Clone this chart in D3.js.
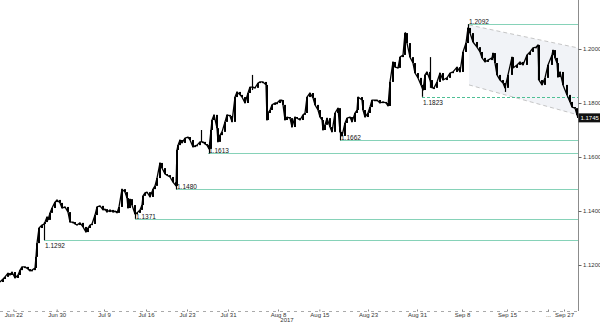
<!DOCTYPE html>
<html lang="en">
<head>
  <meta charset="UTF-8">
  <title>EUR/USD Jun - Sep 2017</title>
  <script src="https://d3js.org/d3.v7.min.js"></script>
  <style>
    body { margin: 0; background: #fff; }
    svg { display: block; font-family: 'Liberation Sans', Arial, sans-serif; }
  </style>
</head>
<body>
<div id="chart"></div>
<script>
  // [trading hour since start, close]
  var closes = [
    [0,1.1137],[9,1.1148],[15,1.1156],[24,1.1170],[30,1.1163],[36,1.1174],[45,1.1152],[54,1.1163],
    [60,1.1181],[66,1.1193],[75,1.1193],[84,1.1185],[90,1.1178],[96,1.1181],[105,1.1189],[108,1.1230],
    [111,1.1281],[117,1.1337],[126,1.1348],[132,1.1352],[135,1.1359],[141,1.1378],[144,1.1367],[150,1.1393],
    [156,1.1411],[165,1.1433],[171,1.1441],[180,1.1430],[186,1.1411],[195,1.1415],[204,1.1396],[210,1.1359],
    [219,1.1359],[225,1.1352],[231,1.1348],[240,1.1356],[249,1.1341],[258,1.1322],[264,1.1337],[270,1.1348],
    [276,1.1352],[285,1.1385],[291,1.1415],[300,1.1419],[309,1.1404],[315,1.1407],[321,1.1396],[330,1.1404],
    [339,1.1396],[345,1.1400],[351,1.1393],[357,1.1415],[366,1.1481],[375,1.1470],[381,1.1448],[384,1.1411],
    [390,1.1444],[396,1.1422],[405,1.1389],[411,1.1393],[420,1.1404],[426,1.1422],[429,1.1456],[435,1.1467],
    [441,1.1470],[450,1.1452],[459,1.1481],[465,1.1493],[471,1.1522],[480,1.1578],[486,1.1559],[495,1.1537],
    [501,1.1533],[510,1.1526],[519,1.1507],[528,1.1493],[531,1.1626],[534,1.1644],[540,1.1663],[546,1.1652],
    [555,1.1670],[564,1.1674],[570,1.1663],[579,1.1637],[585,1.1641],[591,1.1644],[600,1.1656],[609,1.1656],
    [615,1.1648],[621,1.1644],[627,1.1630],[633,1.1700],[636,1.1737],[642,1.1756],[651,1.1707],[654,1.1656],
    [660,1.1681],[666,1.1693],[675,1.1730],[681,1.1756],[690,1.1752],[696,1.1730],[705,1.1822],[711,1.1841],
    [720,1.1830],[726,1.1822],[735,1.1800],[744,1.1837],[750,1.1859],[759,1.1859],[765,1.1856],[774,1.1874],
    [780,1.1878],[789,1.1878],[798,1.1867],[801,1.1737],[804,1.1763],[810,1.1774],[816,1.1793],[825,1.1800],
    [831,1.1800],[840,1.1811],[846,1.1811],[849,1.1793],[855,1.1737],[861,1.1748],[870,1.1744],[876,1.1711],
    [885,1.1748],[891,1.1744],[900,1.1737],[909,1.1756],[915,1.1763],[921,1.1822],[930,1.1837],[939,1.1819],
    [945,1.1793],[954,1.1774],[960,1.1748],[966,1.1737],[969,1.1700],[975,1.1719],[981,1.1744],[990,1.1711],
    [996,1.1693],[1005,1.1763],[1014,1.1781],[1020,1.1693],[1026,1.1678],[1035,1.1726],[1041,1.1744],[1050,1.1748],
    [1056,1.1730],[1065,1.1763],[1071,1.1774],[1074,1.1822],[1086,1.1811],[1089,1.1774],[1095,1.1748],[1104,1.1763],
    [1110,1.1785],[1116,1.1811],[1125,1.1811],[1131,1.1811],[1140,1.1800],[1149,1.1804],[1158,1.1800],[1164,1.1789],
    [1170,1.1878],[1179,1.1952],[1185,1.1933],[1194,1.1930],[1200,1.1970],[1209,1.1978],[1215,1.2059],[1221,1.2022],
    [1230,1.1970],[1239,1.1948],[1245,1.1911],[1254,1.1893],[1263,1.1867],[1269,1.1848],[1275,1.1904],[1281,1.1915],
    [1290,1.1885],[1296,1.1856],[1302,1.1856],[1311,1.1878],[1320,1.1911],[1329,1.1885],[1341,1.1893],[1350,1.1911],
    [1359,1.1915],[1371,1.1933],[1380,1.1915],[1389,1.1989],[1398,1.2022],[1404,1.2078],[1410,1.2059],[1419,1.2026],
    [1431,1.2007],[1440,1.1989],[1446,1.1967],[1455,1.1952],[1464,1.1959],[1476,1.1967],[1479,1.1985],[1485,1.1948],
    [1491,1.1904],[1500,1.1885],[1509,1.1874],[1515,1.1856],[1524,1.1904],[1536,1.1970],[1539,1.1930],[1551,1.1941],
    [1560,1.1952],[1569,1.1941],[1581,1.1978],[1590,1.1989],[1599,1.2004],[1608,1.2007],[1614,1.2015],[1617,1.1885],
    [1626,1.1867],[1635,1.1893],[1644,1.1941],[1656,1.1978],[1659,1.1996],[1665,1.1967],[1671,1.1948],[1674,1.1896],
    [1680,1.1915],[1689,1.1867],[1701,1.1830],[1710,1.1804],[1716,1.1785],[1725,1.1781],[1731,1.1756],[1734,1.1745]
  ];

  // [trading hour, low, high] for the visible long wicks
  var wicks = [
    [132,1.1292,1.1359],[405,1.1371,1.1393],[528,1.1480,1.1507],[603,1.1656,1.1700],[627,1.1613,1.1637],
    [756,1.1848,1.1904],[1020,1.1662,1.1700],[1215,1.2030,1.2062],[1266,1.1823,1.1867],[1290,1.1856,1.1970],
    [1404,1.2059,1.2092],[1515,1.1841,1.1870],[1614,1.1885,1.2015]
  ];

  var levelValues = [1.1292, 1.1371, 1.1480, 1.1613, 1.1662, 1.1823, 1.2092];
  var levelStarts = [132, 405, 528, 624, 1020, 1266, 1404];
  var levelLabelBelow = [true, false, false, false, false, true, false];
  var levelDashed = [false, false, false, false, false, true, false];

  var channelHours = [1407, 1734];
  var channelUpper = [1.2089, 1.2004];
  var channelLower = [1.1867, 1.1756];

  var priceTicks = [1.12, 1.14, 1.16, 1.18, 1.20];
  var lastPrice = 1.1745;

  var tickLabels = ['Jun 22', 'Jun 30', 'Jul 9', 'Jul 16', 'Jul 23', 'Jul 31', 'Aug 8',
    'Aug 15', 'Aug 23', 'Aug 31', 'Sep 8', 'Sep 15', '...', 'Sep 27'];
  var tickHours = [40, 170, 312, 438, 561, 684, 834, 958, 1104, 1251, 1386, 1521, 1644, 1692];

  var WIDTH = 600, HEIGHT = 323,
    PLOT_RIGHT = 578, AXIS_Y = 311;

  var x = d3.scaleLinear().domain([0, 1734]).range([0, PLOT_RIGHT]);
  var y = d3.scaleLinear().domain([1.12, 1.20]).range([265, 49]);

  var svg = d3.select('#chart').append('svg')
    .attr('width', WIDTH)
    .attr('height', HEIGHT);

  // channel
  var chan = [
    [channelHours[0], channelUpper[0]], [channelHours[1], channelUpper[1]],
    [channelHours[1], channelLower[1]], [channelHours[0], channelLower[0]]
  ];
  svg.append('path')
    .attr('d', 'M' + chan.map(function (d) { return x(d[0]) + ',' + y(d[1]); }).join('L') + 'Z')
    .attr('fill', '#f1f3f7');
  [channelUpper, channelLower].forEach(function (c) {
    svg.append('line')
      .attr('x1', x(channelHours[0])).attr('y1', y(c[0]))
      .attr('x2', x(channelHours[1])).attr('y2', y(c[1]))
      .attr('stroke', '#b8b8b8')
      .attr('stroke-dasharray', '4,3')
      .attr('stroke-width', 0.8);
  });

  // support / resistance levels
  levelValues.forEach(function (v, i) {
    var ly = Math.round(y(v)) + 0.5;
    svg.append('line')
      .attr('x1', Math.round(x(levelStarts[i]))).attr('x2', PLOT_RIGHT)
      .attr('y1', ly).attr('y2', ly)
      .attr('stroke', levelDashed[i] ? '#4fbf95' : '#86d2b8')
      .attr('stroke-dasharray', levelDashed[i] ? '3,2' : null)
      .attr('stroke-width', 1)
      .attr('shape-rendering', 'crispEdges');
    svg.append('text')
      .attr('x', x(levelStarts[i]) + 1)
      .attr('y', levelLabelBelow[i] ? ly + 7 : ly - 0.5)
      .attr('font-size', '6.5px')
      .attr('fill', '#111')
      .text(v.toFixed(4));
  });

  // price
  svg.append('g').selectAll('line')
    .data(wicks)
    .enter()
    .append('line')
    .attr('x1', function (d) { return Math.round(x(d[0])) + 0.5; })
    .attr('x2', function (d) { return Math.round(x(d[0])) + 0.5; })
    .attr('y1', function (d) { return y(d[1]); })
    .attr('y2', function (d) { return y(d[2]); })
    .attr('stroke', '#000')
    .attr('stroke-width', 1.2);

  svg.append('g').selectAll('rect')
    .data(closes.slice(1))
    .enter()
    .append('rect')
    .attr('x', function (d) { return x(d[0]) - 1; })
    .attr('width', 2)
    .attr('y', function (d, i) { return y(Math.max(d[1], closes[i][1])); })
    .attr('height', function (d, i) { return Math.max(1.2, Math.abs(y(d[1]) - y(closes[i][1]))); })
    .attr('fill', '#000');

  svg.append('path')
    .datum(closes)
    .attr('d', d3.line().x(function (d) { return x(d[0]); }).y(function (d) { return y(d[1]); }))
    .attr('fill', 'none')
    .attr('stroke', '#000')
    .attr('stroke-width', 1.3)
    .attr('stroke-linejoin', 'round');

  // right price axis
  svg.append('line')
    .attr('x1', PLOT_RIGHT + 0.5).attr('x2', PLOT_RIGHT + 0.5)
    .attr('y1', 0).attr('y2', AXIS_Y)
    .attr('stroke', '#8c8c8c');

  var yAxis = svg.append('g')
    .attr('transform', 'translate(' + (PLOT_RIGHT + 0.5) + ',0)')
    .call(d3.axisRight(y).tickValues(priceTicks).tickSize(3).tickPadding(1.5).tickFormat(d3.format('.4f')));
  yAxis.select('.domain').remove();
  yAxis.selectAll('line').attr('stroke', '#666');
  yAxis.selectAll('text').attr('font-size', '6px').attr('fill', '#333').attr('font-family', null);

  // last price tag
  svg.append('rect')
    .attr('x', PLOT_RIGHT + 0.5).attr('y', y(lastPrice) - 4.5)
    .attr('width', WIDTH - PLOT_RIGHT).attr('height', 9)
    .attr('fill', '#111');
  svg.append('text')
    .attr('x', PLOT_RIGHT + 2.5).attr('y', y(lastPrice) + 2.2)
    .attr('font-size', '6px')
    .attr('fill', '#fff')
    .text(lastPrice.toFixed(4));

  // time axis
  var xAxis = svg.append('g')
    .attr('transform', 'translate(0,' + (AXIS_Y + 0.5) + ')')
    .call(d3.axisBottom(x).tickValues(tickHours).tickSize(2)
      .tickFormat(function (d, i) { return tickLabels[i]; }));
  xAxis.select('.domain')
    .attr('d', 'M0,0H' + PLOT_RIGHT)
    .attr('stroke', '#aaa')
    .attr('stroke-dasharray', '3,4');
  xAxis.selectAll('line').attr('stroke', '#888').attr('y2', -2);
  xAxis.selectAll('text')
    .attr('y', 5).attr('dy', null)
    .attr('font-size', '6px').attr('fill', '#333').attr('font-family', null);

  svg.append('text')
    .attr('x', x(tickHours[6]) + 9).attr('y', 322)
    .attr('text-anchor', 'middle')
    .attr('font-size', '6px')
    .attr('fill', '#333')
    .text('2017');
</script>
</body>
</html>
